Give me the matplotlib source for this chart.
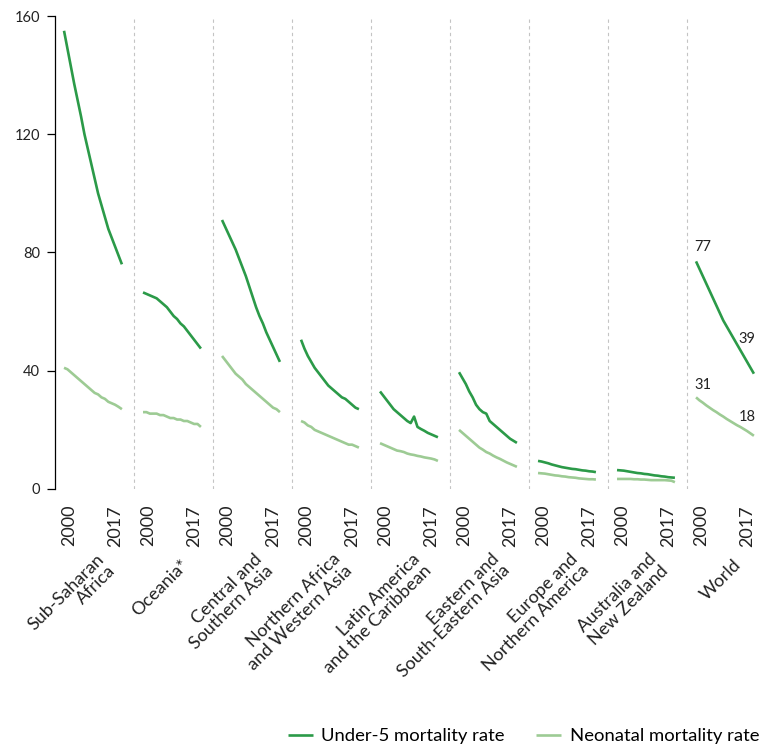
import numpy as np
import matplotlib
matplotlib.use('Agg')
import matplotlib.pyplot as plt

plt.rcParams['font.family'] = ['Lato', 'DejaVu Sans']

# annual values 2000-2017
years = np.arange(2000, 2018)

regions = ['Sub-Saharan\nAfrica', 'Oceania*', 'Central and\nSouthern Asia',
           'Northern Africa\nand Western Asia', 'Latin America\nand the Caribbean',
           'Eastern and\nSouth-Eastern Asia', 'Europe and\nNorthern America',
           'Australia and\nNew Zealand', 'World']

u5_ssa = [155, 149, 143, 137, 131.5, 126, 120, 115, 110, 105, 100, 96, 92, 88, 85, 82, 79, 76]
nmr_ssa = [41, 40.5, 39.5, 38.5, 37.5, 36.5, 35.5, 34.5, 33.5, 32.5, 32, 31, 30.5, 29.5, 29, 28.5, 27.8, 27]

u5_oce = [66.5, 66, 65.5, 65, 64.5, 63.5, 62.5, 61.5, 60, 58.5, 57.5, 56, 55, 53.5, 52, 50.5, 49, 47.5]
nmr_oce = [26, 26, 25.5, 25.5, 25.5, 25, 25, 24.5, 24, 24, 23.5, 23.5, 23, 23, 22.5, 22, 22, 21]

u5_csa = [91, 88.5, 86, 83.5, 81, 78, 75, 72, 68.5, 65, 61.5, 58.5, 56, 53, 50.5, 48, 45.5, 43]
nmr_csa = [45, 43.5, 42, 40.5, 39, 38, 37, 35.5, 34.5, 33.5, 32.5, 31.5, 30.5, 29.5, 28.5, 27.5, 27, 26]

u5_nawa = [50.5, 47.5, 45, 43, 41, 39.5, 38, 36.5, 35, 34, 33, 32, 31, 30.5, 29.5, 28.5, 27.5, 27]
nmr_nawa = [23, 22.5, 21.5, 21, 20, 19.5, 19, 18.5, 18, 17.5, 17, 16.5, 16, 15.5, 15, 15, 14.5, 14]

u5_lac = [33, 31.5, 30, 28.5, 27, 26, 25, 24, 23, 22.3, 24.5, 21, 20.3, 19.7, 19, 18.5, 18, 17.5]
nmr_lac = [15.5, 15, 14.5, 14, 13.5, 13, 12.8, 12.5, 12, 11.7, 11.5, 11.2, 11, 10.7, 10.5, 10.3, 10, 9.5]

u5_esea = [39.5, 37.5, 35.5, 33, 31, 28.5, 27, 26, 25.5, 23, 22, 21, 20, 19, 18, 17, 16.3, 15.6]
nmr_esea = [20, 19, 18, 17, 16, 15, 14, 13.3, 12.5, 12, 11.3, 10.7, 10.2, 9.6, 9, 8.5, 8, 7.5]

u5_ena = [9.5, 9.3, 9, 8.7, 8.3, 8, 7.7, 7.4, 7.2, 7, 6.8, 6.7, 6.5, 6.3, 6.2, 6, 5.9, 5.7]
nmr_ena = [5.4, 5.3, 5.2, 5, 4.8, 4.6, 4.5, 4.3, 4.2, 4, 3.9, 3.8, 3.6, 3.5, 3.4, 3.3, 3.3, 3.2]

u5_anz = [6.4, 6.3, 6.2, 6, 5.8, 5.6, 5.4, 5.3, 5.1, 5, 4.8, 4.6, 4.5, 4.3, 4.2, 4.0, 3.9, 3.8]
nmr_anz = [3.4, 3.4, 3.4, 3.4, 3.4, 3.3, 3.3, 3.2, 3.2, 3.1, 3.0, 3.0, 3.0, 3.0, 3.0, 2.9, 2.8, 2.3]

u5_world = [77, 74.5, 72, 69.5, 67, 64.5, 62, 59.5, 57, 55, 53, 51, 49, 47, 45, 43, 41, 39]
nmr_world = [31, 30, 29.2, 28.3, 27.5, 26.7, 26, 25.2, 24.5, 23.7, 23, 22.3, 21.6, 21, 20.3, 19.6, 18.8, 18]

u5_all = [u5_ssa, u5_oce, u5_csa, u5_nawa, u5_lac, u5_esea, u5_ena, u5_anz, u5_world]
nmr_all = [nmr_ssa, nmr_oce, nmr_csa, nmr_nawa, nmr_lac, nmr_esea, nmr_ena, nmr_anz, nmr_world]

c_u5 = '#2b9a48'
c_nmr = '#9dcb94'

W = 23.2      # panel width in years
off = 2.65    # gap before 2000 inside a panel

fig = plt.figure(figsize=(7.72, 7.46), dpi=100)
ax = fig.add_axes([55/772, 257/746, 711/772, 473/746])

xt = []
xtl = []
for i in range(len(regions)):
    x = i*W + off + (years - 2000)
    l1, = ax.plot(x, u5_all[i], color=c_u5, lw=1.9, solid_capstyle='butt')
    l2, = ax.plot(x, nmr_all[i], color=c_nmr, lw=1.9, solid_capstyle='butt')
    if i > 0:
        ax.axvline(i*W, color='#c4c4c4', lw=0.8, ls=(0, (3, 3)))
    xt += [i*W + off + 1.5, i*W + off + 15.1]
    xtl += ['2000', '2017']
    ax.text(i*W + W/2 + 3.6, -0.155, regions[i], transform=ax.get_xaxis_transform(),
            rotation=45, rotation_mode='anchor', ha='right', va='center',
            multialignment='right', fontsize=13, color='#222222', linespacing=1.0)

# end labels for World
xw = 8*W + off
ax.annotate('77', (xw, u5_world[0]), xytext=(-1, 5), textcoords='offset points',
            ha='left', va='bottom', fontsize=10.5, color='#222222')
ax.annotate('39', (xw + 17, u5_world[-1]), xytext=(1, 20), textcoords='offset points',
            ha='right', va='bottom', fontsize=10.5, color='#222222')
ax.annotate('31', (xw, nmr_world[0]), xytext=(-1, 3.5), textcoords='offset points',
            ha='left', va='bottom', fontsize=10.5, color='#222222')
ax.annotate('18', (xw + 17, nmr_world[-1]), xytext=(1, 8.5), textcoords='offset points',
            ha='right', va='bottom', fontsize=10.5, color='#222222')

ax.set_xlim(0, 9*W)
ax.set_ylim(0, 160)
ax.set_yticks([0, 40, 80, 120, 160])
ax.set_xticks(xt)
ax.set_xticklabels(xtl, rotation=90, fontsize=13, color='#222222')
ax.tick_params(axis='x', length=0, pad=11.5)
ax.tick_params(axis='y', length=5.8, width=0.9, pad=5, labelsize=10.5, labelcolor='#222222')
for s in ['top', 'right', 'bottom']:
    ax.spines[s].set_visible(False)
ax.spines['left'].set_linewidth(0.9)

fig.legend([l1, l2], ['Under-5 mortality rate', 'Neonatal mortality rate'],
           loc='center right', bbox_to_anchor=(759/772, 10/746), ncol=2,
           frameon=False, fontsize=13.3, handlelength=1.35, handletextpad=0.45,
           columnspacing=1.7, borderpad=0, borderaxespad=0)

fig.savefig('out.png', dpi=100)
